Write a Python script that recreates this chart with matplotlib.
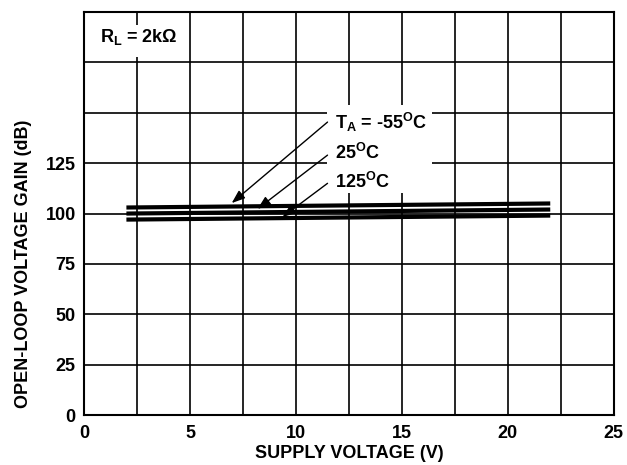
import numpy as np
import matplotlib.pyplot as plt
from matplotlib.patches import Rectangle

plt.rcParams['font.family'] = 'Liberation Sans'
plt.rcParams['font.weight'] = 'bold'
plt.rcParams['mathtext.fontset'] = 'custom'
plt.rcParams['mathtext.rm'] = 'Liberation Sans:bold'
plt.rcParams['mathtext.it'] = 'Liberation Sans:bold'
plt.rcParams['mathtext.bf'] = 'Liberation Sans:bold'

# data
supply_v = [2, 22]
gain_m55 = [103, 105]
gain_25 = [100, 102]
gain_125 = [97, 99]

xticks = [0, 5, 10, 15, 20, 25]
yticks = [0, 25, 50, 75, 100, 125]

fig = plt.figure(figsize=(6.27, 4.65), dpi=100)
ax = fig.add_axes([0.134, 0.1075, 0.845, 0.8665])

for g in (gain_m55, gain_25, gain_125):
    ax.plot(supply_v, g, color='k', lw=3, solid_capstyle='butt', zorder=3)

ax.set_xlim(0, 25)
ax.set_ylim(0, 200)
xt = np.arange(0, 25.1, 2.5)
ax.set_xticks(xt)
ax.set_xticklabels(['%g' % t if t in xticks else '' for t in xt])
ax.set_yticks(np.arange(0, 201, 25))
ax.set_yticklabels([str(t) if t in yticks else '' for t in range(0, 201, 25)])
ax.tick_params(length=0, labelsize=13)
ax.tick_params(axis='y', pad=6)
ax.tick_params(axis='x', pad=7)
for lab in ax.get_xticklabels() + ax.get_yticklabels():
    lab.set_fontweight('bold')

ax.set_axisbelow(True)
ax.grid(True, color='k', lw=1.2)
for s in ax.spines.values():
    s.set_linewidth(1.5)

fig.text(0.557, 0.025, 'SUPPLY VOLTAGE (V)', fontsize=13, fontweight='bold',
         ha='center', va='center')
fig.text(0.038, 0.432, 'OPEN-LOOP VOLTAGE GAIN (dB)', fontsize=13, fontweight='bold',
         ha='center', va='center', rotation=90)

# white areas behind the annotations
ax.add_patch(Rectangle((11.45, 110), 4.95, 44, facecolor='white', edgecolor='none', zorder=1.5))
ax.add_patch(Rectangle((0.75, 177.5), 3.8, 16, facecolor='white', edgecolor='none', zorder=1.5))

ax.text(0.75, 187.5, r'R$_\mathrm{L}$ = 2k$\Omega$', fontsize=13, fontweight='bold',
        va='center', ha='left', zorder=4)

labels = [r'T$_\mathrm{A}$ = -55$^\mathrm{O}$C', r'25$^\mathrm{O}$C', r'125$^\mathrm{O}$C']
label_y = [145, 130, 115.5]
tails = [(11.49, 145.4), (11.49, 129), (11.49, 115)]
heads = [(6.97, 105.2), (8.19, 102.3), (9.37, 98.3)]
for lab, ly, t, h in zip(labels, label_y, tails, heads):
    ax.text(11.85, ly, lab, fontsize=13, fontweight='bold', va='center', ha='left', zorder=4)
    ax.annotate('', xy=h, xytext=t,
                arrowprops=dict(arrowstyle='-|>,head_length=0.8,head_width=0.3',
                                color='k', lw=1, shrinkA=0, shrinkB=0), zorder=4)

fig.savefig('out.png', dpi=100)
